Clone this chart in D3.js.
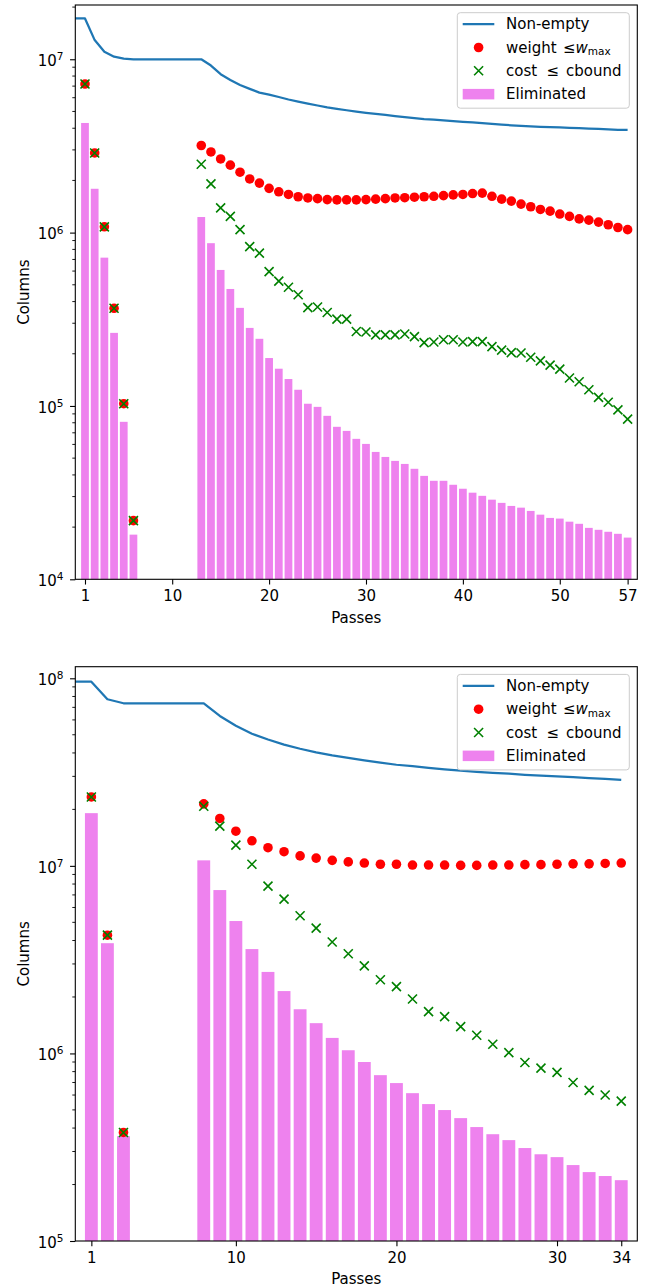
<!DOCTYPE html>
<html>
<head>
<meta charset="utf-8">
<script src="https://cdn.jsdelivr.net/npm/d3@7"></script>
<style>
  body { margin: 0; background: #fff; }
  svg { display: block; font-family: "DejaVu Sans", sans-serif; }
</style>
</head>
<body>
<div id="chart"></div>
<script>
// ---- top run ----
var topLinePasses = [0, 1, 2, 3, 4, 5, 6, 7, 8, 9, 10, 11, 12, 13, 14, 15, 16, 17, 18, 19,
    20, 21, 22, 23, 24, 25, 26, 27, 28, 29, 30, 31, 32, 33, 34, 35, 36, 37, 38, 39,
    40, 41, 42, 43, 44, 45, 46, 47, 48, 49, 50, 51, 52, 53, 54, 55, 56, 57];
var topNonEmpty = [1.72e7, 1.72e7, 1.29e7, 1.106e7, 1.035e7, 1.008e7, 1.0e7, 1.0e7, 1.0e7, 1.0e7,
    1.0e7, 1.0e7, 1.0e7, 1.0e7, 9.2e6, 8.2e6, 7.6e6, 7.1e6, 6.75e6, 6.42e6,
    6.25e6, 6.06e6, 5.86e6, 5.70e6, 5.55e6, 5.41e6, 5.28e6, 5.18e6, 5.08e6, 4.99e6,
    4.91e6, 4.84e6, 4.77e6, 4.70e6, 4.64e6, 4.58e6, 4.52e6, 4.48e6, 4.44e6, 4.40e6,
    4.36e6, 4.32e6, 4.28e6, 4.24e6, 4.20e6, 4.16e6, 4.13e6, 4.10e6, 4.08e6, 4.06e6,
    4.04e6, 4.02e6, 4.00e6, 3.98e6, 3.96e6, 3.94e6, 3.92e6, 3.91e6];

var topPasses = [1, 2, 3, 4, 5, 6, 13, 14, 15, 16, 17, 18, 19, 20, 21, 22, 23, 24, 25, 26,
    27, 28, 29, 30, 31, 32, 33, 34, 35, 36, 37, 38, 39, 40, 41, 42, 43, 44, 45, 46,
    47, 48, 49, 50, 51, 52, 53, 54, 55, 56, 57];
var topWeight = [7.2e6, 2.88e6, 1.08e6, 3.66e5, 1.03e5, 2.18e4,
    3.18e6, 2.92e6, 2.66e6, 2.45e6, 2.23e6, 2.04e6, 1.93e6, 1.80e6, 1.72e6, 1.66e6,
    1.61e6, 1.585e6, 1.57e6, 1.55e6, 1.545e6, 1.545e6, 1.545e6, 1.55e6, 1.56e6, 1.57e6,
    1.585e6, 1.59e6, 1.60e6, 1.61e6, 1.62e6, 1.635e6, 1.65e6, 1.66e6, 1.68e6, 1.69e6,
    1.62e6, 1.56e6, 1.52e6, 1.46e6, 1.41e6, 1.36e6, 1.33e6, 1.28e6, 1.24e6, 1.20e6,
    1.18e6, 1.15e6, 1.11e6, 1.07e6, 1.04e6];
var topCost = [7.2e6, 2.88e6, 1.08e6, 3.66e5, 1.03e5, 2.18e4,
    2.48e6, 1.91e6, 1.39e6, 1.24e6, 1.04e6, 8.30e5, 7.61e5, 5.96e5, 5.25e5, 4.84e5,
    4.38e5, 3.69e5, 3.72e5, 3.46e5, 3.17e5, 3.17e5, 2.69e5, 2.67e5, 2.57e5, 2.57e5,
    2.57e5, 2.60e5, 2.51e5, 2.32e5, 2.34e5, 2.41e5, 2.41e5, 2.34e5, 2.35e5, 2.35e5,
    2.20e5, 2.10e5, 2.03e5, 2.02e5, 1.91e5, 1.82e5, 1.72e5, 1.63e5, 1.45e5, 1.38e5,
    1.24e5, 1.12e5, 1.05e5, 9.5e4, 8.4e4];
var topEliminated = [4.29e6, 1.79e6, 7.17e5, 2.64e5, 8.1e4, 1.81e4,
    1.23e6, 8.69e5, 6.09e5, 4.73e5, 3.68e5, 2.82e5, 2.44e5, 1.89e5, 1.64e5, 1.43e5,
    1.24e5, 1.03e5, 9.88e4, 8.77e4, 7.58e4, 7.18e4, 6.46e4, 6.04e4, 5.43e4, 5.08e4,
    4.82e4, 4.63e4, 4.34e4, 3.95e4, 3.70e4, 3.70e4, 3.51e4, 3.33e4, 3.16e4, 3.03e4,
    2.88e4, 2.76e4, 2.65e4, 2.59e4, 2.48e4, 2.36e4, 2.26e4, 2.24e4, 2.15e4, 2.09e4,
    1.98e4, 1.93e4, 1.88e4, 1.83e4, 1.74e4];
var topXTicks = [1, 10, 20, 30, 40, 50, 57];
var topYTicks = [1e4, 1e5, 1e6, 1e7];

// ---- bottom run ----
var botLinePasses = [0, 1, 2, 3, 4, 5, 6, 7, 8, 9, 10, 11, 12, 13, 14, 15, 16, 17, 18, 19,
    20, 21, 22, 23, 24, 25, 26, 27, 28, 29, 30, 31, 32, 33, 34];
var botNonEmpty = [9.59e7, 9.59e7, 7.73e7, 7.36e7, 7.36e7, 7.36e7, 7.36e7, 7.36e7, 7.36e7,
    6.3e7, 5.58e7, 5.06e7, 4.72e7, 4.43e7, 4.21e7, 4.03e7, 3.88e7, 3.76e7, 3.65e7,
    3.55e7, 3.46e7, 3.40e7, 3.33e7, 3.27e7, 3.22e7, 3.17e7, 3.13e7, 3.10e7, 3.06e7,
    3.03e7, 3.00e7, 2.97e7, 2.94e7, 2.905e7, 2.87e7];

var botPasses = [1, 2, 3, 8, 9, 10, 11, 12, 13, 14, 15, 16, 17, 18, 19, 20, 21, 22, 23, 24,
    25, 26, 27, 28, 29, 30, 31, 32, 33, 34];
var botWeight = [2.33e7, 4.27e6, 3.79e5,
    2.14e7, 1.79e7, 1.53e7, 1.36e7, 1.25e7, 1.19e7, 1.13e7, 1.10e7, 1.07e7, 1.05e7,
    1.035e7, 1.02e7, 1.02e7, 1.01e7, 1.01e7, 1.01e7, 1.006e7, 1.006e7, 1.01e7, 1.01e7,
    1.015e7, 1.015e7, 1.02e7, 1.025e7, 1.025e7, 1.03e7, 1.035e7];
var botCost = [2.33e7, 4.27e6, 3.79e5,
    2.08e7, 1.63e7, 1.29e7, 1.02e7, 7.80e6, 6.65e6, 5.42e6, 4.66e6, 3.93e6, 3.40e6,
    2.93e6, 2.47e6, 2.27e6, 1.95e6, 1.67e6, 1.57e6, 1.39e6, 1.25e6, 1.12e6, 1.01e6,
    8.95e5, 8.35e5, 7.92e5, 7.0e5, 6.35e5, 6.0e5, 5.57e5];
var botEliminated = [1.91e7, 3.87e6, 3.62e5,
    1.07e7, 7.43e6, 5.08e6, 3.60e6, 2.72e6, 2.15e6, 1.72e6, 1.45e6, 1.21e6, 1.04e6,
    9.0e5, 7.66e5, 6.95e5, 6.14e5, 5.37e5, 4.99e5, 4.52e5, 4.05e5, 3.71e5, 3.45e5,
    3.13e5, 2.90e5, 2.80e5, 2.54e5, 2.33e5, 2.22e5, 2.11e5];
var botXTicks = [1, 10, 20, 30, 34];
var botYTicks = [1e5, 1e6, 1e7, 1e8];

var legendNames = ["Non-empty", "weight", "cost", "Eliminated"];

// ---- layout ----
var svgWidth = 657;
var svgHeight = 1287;
var plotW = 562;
var plotH = 574.3;

var svg = d3.select("#chart")
    .append("svg")
    .attr("width", svgWidth)
    .attr("height", svgHeight);

function drawPanel(p) {
    var g = svg.append("g")
        .attr("transform", `translate(${p.left}, ${p.top})`);

    var x = d3.scaleLinear().domain(p.xDomain).range([0, plotW]);
    var y = d3.scaleLog().domain(p.yDomain).range([plotH, 0]);
    var bw = x(0.8) - x(0);

    var bars = p.passes.map(function(d, i) { return {pass: d, v: p.elim[i]}; });
    var weights = p.passes.map(function(d, i) { return {pass: d, v: p.weight[i]}; });
    var costs = p.passes.map(function(d, i) { return {pass: d, v: p.cost[i]}; });
    var line = p.linePasses.map(function(d, i) { return {pass: d, v: p.nonEmpty[i]}; });

    // bars
    g.selectAll(".bar")
        .data(bars)
        .enter()
        .append("rect")
        .attr("class", "bar")
        .attr("x", function(d) { return x(d.pass) - bw / 2; })
        .attr("width", bw)
        .attr("y", function(d) { return y(d.v); })
        .attr("height", function(d) { return plotH - y(d.v); })
        .attr("fill", "#ee82ee");

    // non-empty line
    g.append("path")
        .datum(line)
        .attr("d", d3.line()
            .x(function(d) { return x(d.pass); })
            .y(function(d) { return y(d.v); }))
        .attr("fill", "none")
        .attr("stroke", "#1f77b4")
        .attr("stroke-width", 2.25)
        .attr("stroke-linejoin", "round");

    // weight dots
    g.selectAll(".dot")
        .data(weights)
        .enter()
        .append("circle")
        .attr("class", "dot")
        .attr("cx", function(d) { return x(d.pass); })
        .attr("cy", function(d) { return y(d.v); })
        .attr("r", 4.8)
        .attr("fill", "red");

    // cost crosses
    g.selectAll(".cross")
        .data(costs)
        .enter()
        .append("path")
        .attr("class", "cross")
        .attr("transform", function(d) { return `translate(${x(d.pass)}, ${y(d.v)})`; })
        .attr("d", "M-4.5,-4.5L4.5,4.5M-4.5,4.5L4.5,-4.5")
        .attr("stroke", "green")
        .attr("stroke-width", 1.6)
        .attr("fill", "none");

    // minor ticks on the log axis
    var minors = [];
    var k0 = Math.floor(Math.log10(p.yDomain[0]));
    var k1 = Math.ceil(Math.log10(p.yDomain[1]));
    for (var k = k0; k <= k1; k++) {
        for (var m = 2; m < 10; m++) {
            var v = m * Math.pow(10, k);
            if (v > p.yDomain[0] && v < p.yDomain[1]) minors.push(v);
        }
    }
    g.selectAll(".minor")
        .data(minors)
        .enter()
        .append("line")
        .attr("class", "minor")
        .attr("x1", -3).attr("x2", 0)
        .attr("y1", function(d) { return y(d); })
        .attr("y2", function(d) { return y(d); })
        .attr("stroke", "black")
        .attr("stroke-width", 0.9);

    // axes
    var yAxis = g.append("g")
        .call(d3.axisLeft(y).tickValues(p.yTicks).tickSize(5.25).tickPadding(6.5).tickFormat(""));
    yAxis.select(".domain").remove();
    yAxis.selectAll(".tick line").attr("stroke", "black").attr("stroke-width", 1.1);
    yAxis.selectAll(".tick text")
        .attr("font-size", 15)
        .attr("font-family", "DejaVu Sans")
        .attr("fill", "#000")
        .attr("dy", 6.2)
        .each(function(d) {
            var t = d3.select(this).text("10");
            t.append("tspan")
                .attr("font-size", 10.5)
                .attr("dy", -5.7)
                .text(Math.round(Math.log10(d)));
        });

    var xAxis = g.append("g")
        .attr("transform", `translate(0, ${plotH})`)
        .call(d3.axisBottom(x).tickValues(p.xTicks).tickSize(5.25).tickPadding(6).tickFormat(d3.format("d")));
    xAxis.select(".domain").remove();
    xAxis.selectAll(".tick line").attr("stroke", "black").attr("stroke-width", 1.1);
    xAxis.selectAll(".tick text")
        .attr("font-size", 15)
        .attr("font-family", "DejaVu Sans")
        .attr("fill", "#000");

    // spines
    g.append("rect")
        .attr("width", plotW)
        .attr("height", plotH)
        .attr("fill", "none")
        .attr("stroke", "black")
        .attr("stroke-width", 1.1);

    // axis titles
    g.append("text")
        .attr("x", plotW / 2)
        .attr("y", plotH + 43.5)
        .attr("text-anchor", "middle")
        .attr("font-size", 15)
        .text("Passes");

    g.append("text")
        .attr("transform", "rotate(-90)")
        .attr("x", -plotH / 2)
        .attr("y", 28.5 - p.left)
        .attr("text-anchor", "middle")
        .attr("font-size", 15)
        .text("Columns");

    // legend
    var lw = 172, lh = 95.5;
    var leg = g.append("g")
        .attr("transform", `translate(${plotW - 8 - lw}, 7.7)`);
    leg.append("rect")
        .attr("width", lw)
        .attr("height", lh)
        .attr("rx", 3)
        .attr("fill", "white")
        .attr("fill-opacity", 0.8)
        .attr("stroke", "#cccccc")
        .attr("stroke-width", 1);

    var rowY = [11.5, 34.8, 58.1, 81.4];
    var hx0 = 5.4, hx1 = 37, hxc = 21.3, tx = 48.7;

    leg.append("line")
        .attr("x1", hx0).attr("x2", hx1)
        .attr("y1", rowY[0]).attr("y2", rowY[0])
        .attr("stroke", "#1f77b4")
        .attr("stroke-width", 2.25);
    leg.append("circle")
        .attr("cx", hxc).attr("cy", rowY[1])
        .attr("r", 4.8)
        .attr("fill", "red");
    leg.append("path")
        .attr("transform", `translate(${hxc}, ${rowY[2]})`)
        .attr("d", "M-4.5,-4.5L4.5,4.5M-4.5,4.5L4.5,-4.5")
        .attr("stroke", "green")
        .attr("stroke-width", 1.6);
    leg.append("rect")
        .attr("x", hx0).attr("y", rowY[3] - 5.2)
        .attr("width", hx1 - hx0).attr("height", 10.5)
        .attr("fill", "#ee82ee");

    leg.append("text").attr("x", tx).attr("y", rowY[0] + 5.3).attr("font-size", 15)
        .text(legendNames[0]);

    // weight <= w_max, pieces flow after each other
    var t1 = leg.append("text").attr("y", rowY[1] + 5.3).attr("font-size", 15);
    t1.append("tspan").attr("x", tx).text(legendNames[1]);
    t1.append("tspan").attr("x", tx + 57).text("\u2264");
    t1.append("tspan").attr("font-style", "italic").text("w");
    t1.append("tspan").attr("dy", 2.5).attr("font-size", 10.5).text("max");

    var t2 = leg.append("text").attr("y", rowY[2] + 5.3).attr("font-size", 15);
    t2.append("tspan").attr("x", tx).text(legendNames[2]);
    t2.append("tspan").attr("x", tx + 40.5).text("\u2264");
    t2.append("tspan").attr("x", tx + 60).text("cbound");

    leg.append("text").attr("x", tx).attr("y", rowY[3] + 5.3).attr("font-size", 15)
        .text(legendNames[3]);
}

drawPanel({
    left: 75.3, top: 5,
    xDomain: [0, 58], yDomain: [1e4, 2.056e7],
    xTicks: topXTicks, yTicks: topYTicks,
    linePasses: topLinePasses, nonEmpty: topNonEmpty,
    passes: topPasses, weight: topWeight, cost: topCost, elim: topEliminated
});

drawPanel({
    left: 75.3, top: 666.7,
    xDomain: [0, 35], yDomain: [1e5, 1.153e8],
    xTicks: botXTicks, yTicks: botYTicks,
    linePasses: botLinePasses, nonEmpty: botNonEmpty,
    passes: botPasses, weight: botWeight, cost: botCost, elim: botEliminated
});
</script>
</body>
</html>
